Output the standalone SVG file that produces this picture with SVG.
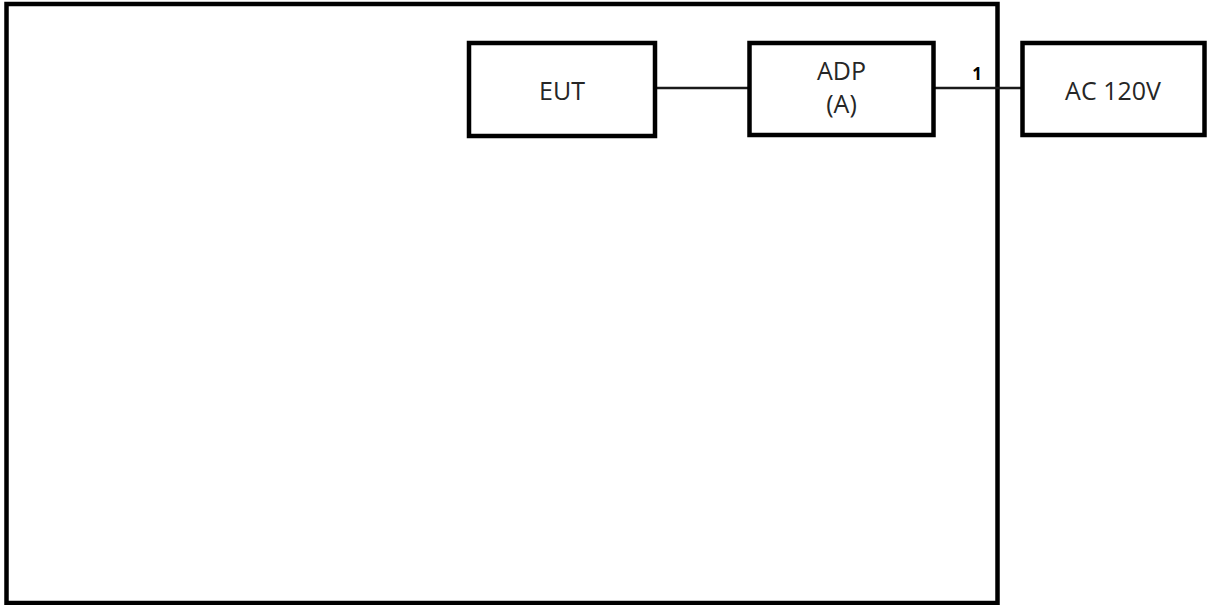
<svg xmlns="http://www.w3.org/2000/svg" width="1207" height="605" viewBox="0 0 1207 605">
<style>
.box{fill:#fff;stroke:#000;stroke-width:4.5}
.t{font-family:"Open Sans","Liberation Sans",sans-serif;font-size:25px;fill:#262626;text-anchor:middle}
.c{stroke:#1a1a1a;stroke-width:2.5;fill:none}
.lbl{font-family:"Open Sans","Liberation Sans",sans-serif;font-size:17px;font-weight:bold;fill:#000;text-anchor:middle}
</style>
<rect width="1207" height="605" fill="#fff"/>
<g id="frame"><rect x="6.5" y="4" width="991" height="599" fill="none" stroke="#000" stroke-width="4.5"/></g>
<g id="connectors">
<line class="c" x1="655" y1="88" x2="749" y2="88"/>
<line class="c" x1="934" y1="88" x2="1022" y2="88"/>
<text class="lbl" x="977" y="80">1</text>
</g>
<g id="eut"><rect class="box" x="469" y="43" width="186" height="93"/><text class="t" x="562" y="100">EUT</text></g>
<g id="adp"><rect class="box" x="749.5" y="43" width="184" height="92"/><text class="t" x="841.5" y="80">ADP</text><text class="t" x="841.5" y="113">(A)</text></g>
<g id="ac"><rect class="box" x="1022.5" y="43" width="182" height="92"/><text class="t" x="1113" y="100">AC 120V</text></g>
</svg>
